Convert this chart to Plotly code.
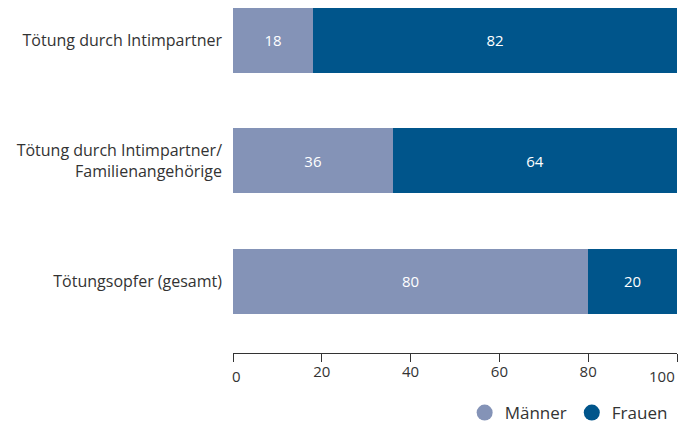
import plotly.graph_objects as go

categories = ["Tötung durch Intimpartner",
              "Tötung durch Intimpartner/<br>Familienangehörige",
              "Tötungsopfer (gesamt)"]
maenner = [18, 36, 80]
frauen = [82, 64, 20]
tick_vals = [0, 20, 40, 60, 80, 100]
tick_text = ["0", "20", "40", "60", "80", "100"]

c_m = "#8493b7"
c_f = "#00558b"
font = "Open Sans"
txt = "#333333"

fig = go.Figure()
fig.add_trace(go.Bar(y=categories, x=maenner, orientation="h", name="Männer",
                     marker=dict(color=c_m, line_width=0), text=maenner,
                     textposition="inside", insidetextanchor="middle",
                     textfont=dict(color="white", size=15, family=font),
                     showlegend=False, width=0.54))
fig.add_trace(go.Bar(y=categories, x=frauen, orientation="h", name="Frauen",
                     marker=dict(color=c_f, line_width=0), text=frauen,
                     textposition="inside", insidetextanchor="middle",
                     textfont=dict(color="white", size=15, family=font),
                     showlegend=False, width=0.54))
for nm, col in [("Männer", c_m), ("Frauen", c_f)]:
    fig.add_trace(go.Scatter(x=[None], y=[None], mode="markers", name=nm,
                             marker=dict(symbol="circle", size=16, color=col)))

# inner tick labels; the first and last are placed flush with the ends
inner_text = [t if 0 < i < len(tick_text) - 1 else "" for i, t in enumerate(tick_text)]
fig.add_annotation(x=tick_vals[0], y=0, xref="x", yref="paper", text=tick_text[0],
                   xanchor="left", yanchor="top", yshift=-11, xshift=-3, showarrow=False,
                   font=dict(size=15, color=txt, family=font))
fig.add_annotation(x=tick_vals[-1], y=0, xref="x", yref="paper", text=tick_text[-1],
                   xanchor="right", yanchor="top", yshift=-11, showarrow=False,
                   font=dict(size=15, color=txt, family=font))

fig.update_layout(
    barmode="stack",
    width=681, height=418,
    margin=dict(l=225, r=12, t=0, b=73, autoexpand=False),
    plot_bgcolor="white", paper_bgcolor="white",
    font=dict(family=font, size=16, color=txt),
    legend=dict(orientation="h", x=0.976, xanchor="right", xref="container",
                y=0.031, yanchor="middle", yref="container",
                font=dict(size=17, color=txt), itemwidth=30,
                tracegroupgap=0, traceorder="normal"),
    xaxis=dict(range=[0, 100], tickvals=tick_vals, ticktext=inner_text,
               showgrid=False, zeroline=False, automargin=False,
               showline=True, linecolor=txt, linewidth=1,
               ticks="outside", ticklen=8, tickcolor=txt, ticklabelstandoff=-3,
               tickfont=dict(size=15, color=txt), fixedrange=True),
    yaxis=dict(categoryorder="array", categoryarray=categories,
               range=[2.597, -0.2656], showgrid=False, zeroline=False,
               automargin=False, showline=False, ticks="", ticklabelstandoff=10,
               tickfont=dict(size=16, color=txt)),
)

fig.write_html("out.html")
